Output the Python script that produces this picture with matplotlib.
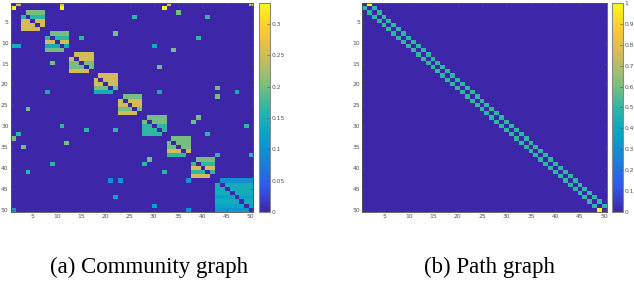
import matplotlib

matplotlib.use("Agg")
import matplotlib.pyplot as plt
import numpy as np
from matplotlib.colors import LinearSegmentedColormap

n_noeuds = 50

# communautes (noeuds 1..50, bornes incluses)
communautes = [(1, 2), (3, 7), (8, 12), (13, 17), (18, 22), (23, 27),
               (28, 32), (33, 37), (38, 42), (43, 50)]

# aretes entre communautes
liens_externes = [
    (1, 11), (1, 33), (1, 50), (2, 11), (2, 32),
    (3, 35), (4, 26), (4, 41), (8, 22), (9, 15), (9, 39),
    (11, 30), (12, 34), (16, 31), (21, 43), (22, 31), (22, 47),
    (23, 43), (28, 39), (29, 38), (30, 49), (32, 41), (37, 43), (37, 50),
]

# graphe chemin : ordre des noeuds
ordre_chemin = list(range(1, n_noeuds + 1))

ticks_mat = [5, 10, 15, 20, 25, 30, 35, 40, 45, 50]
ticks_cb_comm = [0, 0.05, 0.1, 0.15, 0.2, 0.25, 0.3]
ticks_cb_chemin = [0, 0.1, 0.2, 0.3, 0.4, 0.5, 0.6, 0.7, 0.8, 0.9, 1]

parula = LinearSegmentedColormap.from_list("parula", [
    "#3e26a8", "#2f5be8", "#1782d8", "#07a4ca", "#2eb7a4",
    "#87bf77", "#d1bb59", "#fec832", "#f9fb0e"])


def marche_aleatoire(adj):
    return adj / adj.sum(axis=1, keepdims=True)


adj_comm = np.zeros((n_noeuds, n_noeuds))
for a, b in communautes:
    adj_comm[a - 1:b, a - 1:b] = 1
np.fill_diagonal(adj_comm, 0)
for i, j in liens_externes:
    adj_comm[i - 1, j - 1] = 1
    adj_comm[j - 1, i - 1] = 1

adj_chemin = np.zeros((n_noeuds, n_noeuds))
for u, v in zip(ordre_chemin[:-1], ordre_chemin[1:]):
    adj_chemin[u - 1, v - 1] = 1
    adj_chemin[v - 1, u - 1] = 1

mat_comm = marche_aleatoire(adj_comm)
mat_chemin = marche_aleatoire(adj_chemin)

gris = "#505050"
fig = plt.figure(figsize=(6.34, 2.82), dpi=100)


def panneau(pos_ax, pos_cb, mat, ticks_cb, legende, x_leg):
    ax = fig.add_axes(pos_ax)
    img = ax.imshow(mat, cmap=parula, vmin=0, vmax=mat.max(), aspect="auto",
                    interpolation="nearest",
                    extent=(0.5, n_noeuds + 0.5, n_noeuds + 0.5, 0.5))
    ax.set_xticks(ticks_mat)
    ax.set_yticks(ticks_mat)
    ax.tick_params(direction="in", top=True, right=True, length=2, width=0.4,
                   labelsize=4.3, colors=gris, pad=1.5)
    for s in ax.spines.values():
        s.set_color(gris)
        s.set_linewidth(0.6)
    cax = fig.add_axes(pos_cb)
    cb = fig.colorbar(img, cax=cax)
    cb.set_ticks(ticks_cb)
    cb.set_ticklabels([f"{t:g}" for t in ticks_cb])
    cax.tick_params(direction="in", length=2, width=0.4, labelsize=4.3,
                    colors=gris, pad=1.5)
    cb.outline.set_edgecolor("#888888")
    cb.outline.set_linewidth(0.8)
    fig.text(x_leg, 0.032, legende, ha="center", va="baseline",
             family="Liberation Serif", fontsize=16.5)


panneau([10.7 / 634, 0.248, 242.5 / 634, 0.742], [259.3 / 634, 0.248, 10.7 / 634, 0.742],
        mat_comm, ticks_cb_comm, "(a) Community graph", 149 / 634)
panneau([362.3 / 634, 0.248, 244.4 / 634, 0.742], [612.3 / 634, 0.248, 10.4 / 634, 0.742],
        mat_chemin, ticks_cb_chemin, "(b) Path graph", 489 / 634)

fig.savefig("out.png", dpi=100)
plt.close(fig)
